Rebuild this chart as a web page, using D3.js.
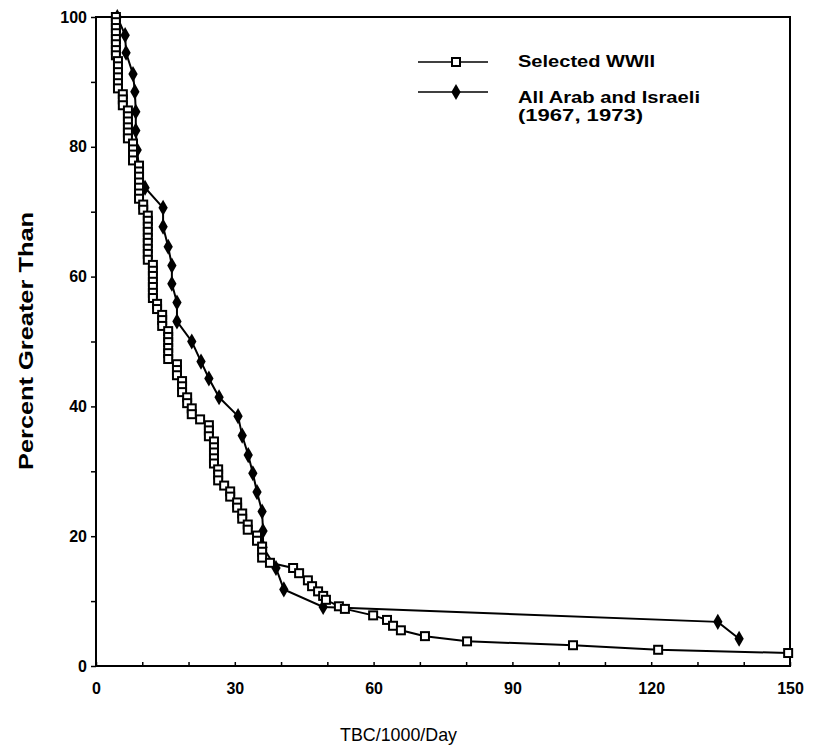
<!DOCTYPE html>
<html><head><meta charset="utf-8">
<script src="https://cdn.jsdelivr.net/npm/d3@7"></script>
<style>body{margin:0;background:#fff}</style>
</head><body>
<svg id="c" width="815" height="745"></svg>
<script>
// Selected WWII: [TBC/1000/Day, percent greater than]
const wwiiX = [4.3,4.3,4.3,4.3,4.3,4.3,4.3,4.3,
  4.75,4.75,4.75,4.75,4.75,4.75,
  5.8,5.8,5.8,
  6.9,6.9,6.9,6.9,6.9,6.9,
  8.0,8.0,8.0,8.0,
  9.3,9.3,9.3,9.3,9.3,9.3,9.3,
  10.2,10.2,
  11.2,11.2,11.2,11.2,11.2,11.2,11.2,11.2,11.2,
  12.3,12.3,12.3,12.3,12.3,12.3,12.3,
  13.2,13.2,
  14.3,14.3,14.3,
  15.6,15.6,15.6,15.6,15.6,15.6,
  17.5,17.5,17.5,
  18.6,18.6,18.6,
  19.7,19.7,
  20.7,20.7,
  22.5,
  24.4,24.4,24.4,
  25.5,25.5,25.5,25.5,25.5,
  26.4,26.4,26.4,
  27.7,
  29.0,29.0,
  30.5,30.5,
  31.6,31.6,
  32.8,32.8,
  34.8,34.8,
  35.9,35.9,35.9,
  37.6,
  42.6,43.9,45.8,46.7,48.0,49.1,49.7,52.5,53.8,59.9,62.9,64.2,65.9,71.1,80.2,103.1,121.5,149.6];
const wwiiY = [100,99.2,98.3,97.5,96.6,95.8,94.9,94.1,
  93.2,92.4,91.5,90.7,89.8,89.0,
  88.1,87.3,86.4,
  85.6,84.7,83.9,83.0,82.2,81.3,
  80.5,79.6,78.8,77.9,
  77.1,76.2,75.4,74.5,73.7,72.8,72.0,
  71.1,70.3,
  69.4,68.6,67.7,66.9,66.0,65.2,64.3,63.5,62.6,
  61.8,60.9,60.1,59.2,58.4,57.5,56.7,
  55.8,55.0,
  54.1,53.3,52.4,
  51.6,50.7,49.9,49.0,48.2,47.3,
  46.5,45.6,44.8,
  43.9,43.1,42.2,
  41.4,40.5,
  39.7,38.8,
  38.0,
  37.1,36.3,35.4,
  34.6,33.7,32.9,32.0,31.2,
  30.3,29.5,28.6,
  27.8,
  26.9,26.1,
  25.2,24.4,
  23.5,22.7,
  21.8,21.0,
  20.1,19.3,
  18.4,17.6,16.7,
  15.9,
  15.1,14.3,13.2,12.3,11.5,10.8,10.2,9.2,8.8,7.8,7.1,6.2,5.5,4.6,3.8,3.2,2.5,2.0];

// All Arab and Israeli (1967, 1973)
const arabX = [4.6,6.3,6.5,8.0,8.4,8.6,8.6,8.9,9.3,10.6,14.5,14.5,15.6,16.4,16.4,17.5,17.5,20.7,22.7,24.4,26.6,30.7,31.6,32.9,33.9,34.8,35.9,36.1,36.1,38.9,40.6,49.1,134.4,139.0];
const arabY = [100,97.2,94.5,91.2,88.5,85.4,82.5,79.5,76.6,73.7,70.6,67.7,64.6,61.7,58.9,56.0,53.1,50.0,46.9,44.3,41.4,38.5,35.5,32.5,29.7,26.8,23.8,20.8,18.3,15.1,11.8,9.1,6.8,4.2];

const xTicks = [0,30,60,90,120,150];
const yTicks = [0,20,40,60,80,100];
const xMinor = [0,10,20,30,40,50,60,70,80,90,100,110,120,130,140,150];
const yMinor = [0,10,20,30,40,50,60,70,80,90,100];
const seriesNames = ["Selected WWII", "All Arab and Israeli", "(1967, 1973)"];

const svg = d3.select("#c");
const L = 96, R = 790, T = 17, B = 666;
const x = d3.scaleLinear().domain([0,150]).range([L,R]);
const y = d3.scaleLinear().domain([0,100]).range([B,T]);
const font = "'Liberation Sans', Arial, Helvetica, sans-serif";

// frame
svg.append("path").attr("d", `M${L},${T}H${R}V${B}H${L}Z`).attr("fill","none").attr("stroke","#000").attr("stroke-width",2);

// x axis
const xa = svg.append("g").attr("transform",`translate(0,${B})`)
  .call(d3.axisBottom(x).tickValues(xMinor).tickSize(-4).tickFormat(""));
xa.select(".domain").remove();
xa.selectAll("line").attr("stroke","#000").attr("stroke-width",1.5);
const xl = svg.append("g").attr("transform",`translate(0,${B})`)
  .call(d3.axisBottom(x).tickValues(xTicks).tickSize(0).tickPadding(17));
xl.select(".domain").remove();
xl.selectAll("text").attr("font-family",font).attr("font-size",16).attr("font-weight","bold").attr("fill","#000");

// y axis
const ya = svg.append("g").attr("transform",`translate(${L},0)`)
  .call(d3.axisLeft(y).tickValues(yMinor).tickSize(5).tickFormat(""));
ya.select(".domain").remove();
ya.selectAll("line").attr("stroke","#000").attr("stroke-width",1.5);
const yl = svg.append("g").attr("transform",`translate(${L},0)`)
  .call(d3.axisLeft(y).tickValues(yTicks).tickSize(0).tickPadding(9));
yl.select(".domain").remove();
yl.selectAll("text").attr("font-family",font).attr("font-size",16).attr("font-weight","bold").attr("fill","#000");

// axis titles
svg.append("text").attr("x",340).attr("y",741)
  .attr("font-family",font).attr("font-size",19).attr("fill","#000")
  .attr("textLength",117).attr("lengthAdjust","spacingAndGlyphs").text("TBC/1000/Day");
svg.append("text").attr("transform",`translate(33,470) rotate(-90)`)
  .attr("font-family",font).attr("font-size",20).attr("font-weight","bold").attr("fill","#000")
  .attr("textLength",258).attr("lengthAdjust","spacingAndGlyphs").text("Percent Greater Than");

const line = d3.line().x(d=>x(d[0])).y(d=>y(d[1]));
const wwii = wwiiX.map((v,i)=>[v,wwiiY[i]]);
const arab = arabX.map((v,i)=>[v,arabY[i]]);

svg.append("path").datum(arab).attr("d",line).attr("fill","none").attr("stroke","#000").attr("stroke-width",2);
svg.append("path").datum(wwii).attr("d",line).attr("fill","none").attr("stroke","#000").attr("stroke-width",2);

const diamond = d3.symbol().type(d3.symbolDiamond).size(75);
svg.append("g").selectAll("path").data(arab).join("path")
  .attr("d",diamond).attr("transform",d=>`translate(${x(d[0])},${y(d[1])})`).attr("fill","#000");

svg.append("g").selectAll("rect").data(wwii).join("rect")
  .attr("x",d=>x(d[0])-4).attr("y",d=>y(d[1])-4).attr("width",8).attr("height",8)
  .attr("fill","#fff").attr("stroke","#000").attr("stroke-width",2);

// legend
const lg = svg.append("g");
lg.append("line").attr("x1",418).attr("x2",488).attr("y1",62).attr("y2",62).attr("stroke","#000").attr("stroke-width",1.5);
lg.append("rect").attr("x",452).attr("y",58).attr("width",8).attr("height",8).attr("fill","#fff").attr("stroke","#000").attr("stroke-width",2);
lg.append("line").attr("x1",418).attr("x2",488).attr("y1",92).attr("y2",92).attr("stroke","#000").attr("stroke-width",1.5);
lg.append("path").attr("d",diamond).attr("transform","translate(456,92)").attr("fill","#000");
lg.selectAll("text").data([[518,67,seriesNames[0],137],[518,103,seriesNames[1],182],[518,121,seriesNames[2],125]]).join("text")
  .attr("x",d=>d[0]).attr("y",d=>d[1]).attr("font-family",font).attr("font-size",16).attr("font-weight","bold").attr("fill","#000")
  .attr("textLength",d=>d[3]).attr("lengthAdjust","spacingAndGlyphs").text(d=>d[2]);
</script>
</body></html>
